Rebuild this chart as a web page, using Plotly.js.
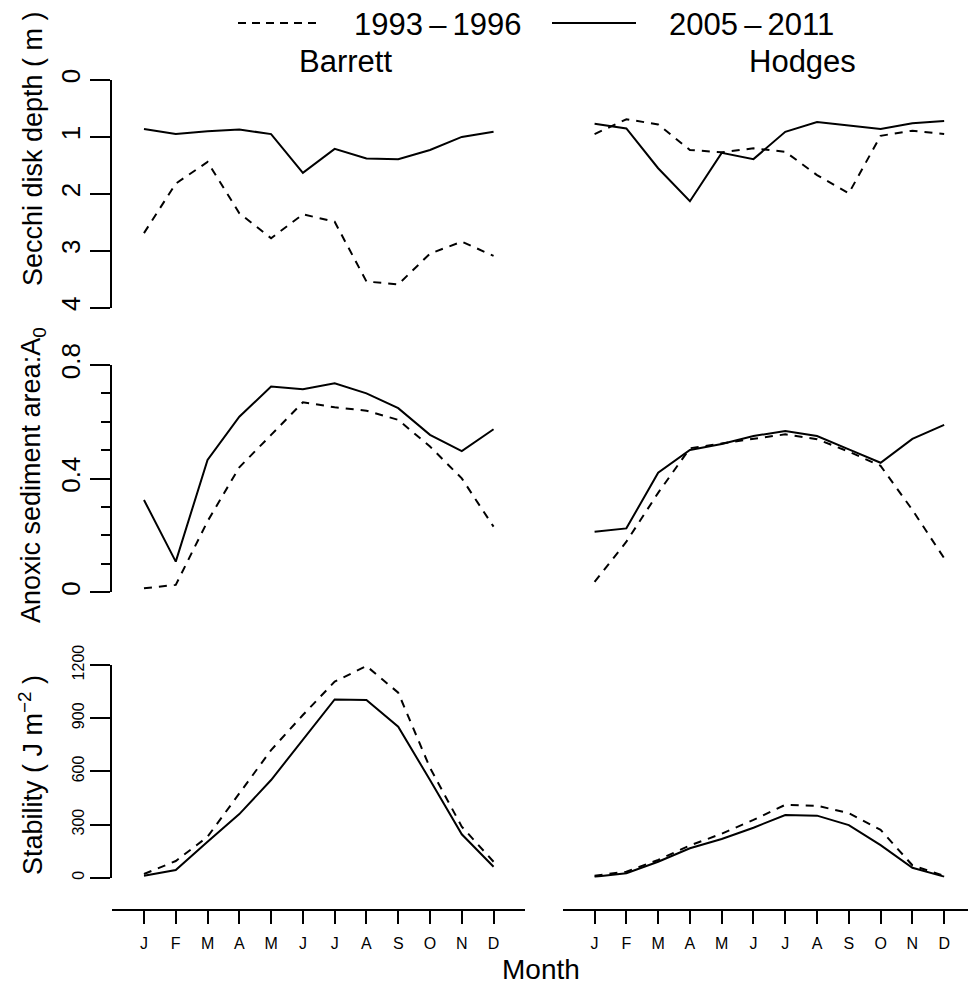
<!DOCTYPE html>
<html>
<head>
<meta charset="utf-8">
<script src="https://cdn.plot.ly/plotly-3.0.1.min.js"></script>
<style>
  html, body { margin: 0; padding: 0; background: #fff; }
  #chart { width: 968px; height: 988px; }
</style>
</head>
<body>
<div id="chart"></div>
<script>
// Month positions and labels
const monthIndex = [1, 2, 3, 4, 5, 6, 7, 8, 9, 10, 11, 12];
const monthLabels = ['J', 'F', 'M', 'A', 'M', 'J', 'J', 'A', 'S', 'O', 'N', 'D'];

// Period names
const periodEarly = '1993\u2009\u2013\u20091996';
const periodLate = '2005\u2009\u2013\u20092011';

// Secchi disk depth (m)
const secchiBarrettEarly = [2.69, 1.82, 1.44, 2.34, 2.78, 2.36, 2.49, 3.54, 3.59, 3.05, 2.84, 3.09];
const secchiBarrettLate  = [0.86, 0.95, 0.90, 0.87, 0.95, 1.63, 1.21, 1.38, 1.39, 1.23, 1.00, 0.91];
const secchiHodgesEarly  = [0.95, 0.69, 0.78, 1.23, 1.27, 1.20, 1.26, 1.67, 1.99, 0.98, 0.89, 0.95];
const secchiHodgesLate   = [0.77, 0.85, 1.55, 2.13, 1.28, 1.39, 0.91, 0.74, 0.80, 0.86, 0.76, 0.72];

// Anoxic sediment area fraction A0
const anoxicBarrettEarly = [0.014, 0.026, 0.25, 0.44, 0.554, 0.669, 0.651, 0.639, 0.607, 0.513, 0.401, 0.231];
const anoxicBarrettLate  = [0.325, 0.108, 0.466, 0.618, 0.724, 0.715, 0.736, 0.700, 0.648, 0.554, 0.497, 0.574];
const anoxicHodgesEarly  = [0.037, 0.178, 0.35, 0.507, 0.524, 0.539, 0.556, 0.539, 0.495, 0.445, 0.29, 0.12];
const anoxicHodgesLate   = [0.213, 0.225, 0.421, 0.501, 0.522, 0.55, 0.568, 0.55, 0.503, 0.456, 0.54, 0.589];

// Stability (J m^-2)
const stabilityBarrettEarly = [21, 94, 231, 476, 720, 918, 1106, 1194, 1044, 620, 288, 90];
const stabilityBarrettLate  = [11, 43, 203, 359, 551, 781, 1006, 1003, 852, 551, 245, 62];
const stabilityHodgesEarly  = [11, 34, 100, 182, 248, 326, 411, 406, 364, 270, 70, 10];
const stabilityHodgesLate   = [6, 25, 90, 166, 218, 282, 354, 350, 297, 184, 56, 6];

// Axis tick values
const secchiTicks = [0, 1, 2, 3, 4];
const anoxicTicks = [0, 0.4, 0.8];
const anoxicMinorTicks = [0, 0.1, 0.2, 0.3, 0.4, 0.5, 0.6, 0.7, 0.8];
const stabilityTicks = [0, 300, 600, 900, 1200];

const W = 968, H = 988;
const FONT = 'Liberation Sans, Arial, Helvetica, sans-serif';
const px = v => v / W;          // horizontal pixel -> paper
const py = v => 1 - v / H;      // vertical pixel -> paper

const dashStyle = '8px,7px';

function line(x, y, xa, ya, dashed) {
  return {
    type: 'scatter', mode: 'lines', x: x, y: y, xaxis: xa, yaxis: ya,
    line: { color: '#000', width: 2, dash: dashed ? dashStyle : 'solid' },
    showlegend: false, hoverinfo: 'skip'
  };
}

const data = [
  line(monthIndex, secchiBarrettEarly, 'x', 'y', true),
  line(monthIndex, secchiBarrettLate, 'x', 'y', false),
  line(monthIndex, secchiHodgesEarly, 'x2', 'y2', true),
  line(monthIndex, secchiHodgesLate, 'x2', 'y2', false),
  line(monthIndex, anoxicBarrettEarly, 'x', 'y3', true),
  line(monthIndex, anoxicBarrettLate, 'x', 'y3', false),
  line(monthIndex, anoxicHodgesEarly, 'x2', 'y4', true),
  line(monthIndex, anoxicHodgesLate, 'x2', 'y4', false),
  line(monthIndex, stabilityBarrettEarly, 'x', 'y5', true),
  line(monthIndex, stabilityBarrettLate, 'x', 'y5', false),
  line(monthIndex, stabilityHodgesEarly, 'x2', 'y6', true),
  line(monthIndex, stabilityHodgesLate, 'x2', 'y6', false)
];

// Panel geometry (pixels)
const monthStep = 31.78;
const leftX0 = 112.2;                 // month 0 on the left panel
const rightX0 = 562.8;                // month 0 on the right panel
const bottomAxisY = 909.5;

function xAxis(x0, x1pix) {
  return {
    domain: [px(x0), px(x1pix)],
    range: [0, (x1pix - x0) / monthStep],
    anchor: 'free', position: py(bottomAxisY),
    showgrid: false, zeroline: false,
    showline: true, linecolor: '#000', linewidth: 2,
    ticks: 'outside', ticklen: 13, tickwidth: 2, tickcolor: '#000',
    tickmode: 'array', tickvals: monthIndex, ticktext: monthLabels,
    tickfont: { family: FONT, size: 16, color: '#000' },
    ticklabelstandoff: 6,
    fixedrange: true
  };
}

function yAxis(top, bottom, range, anchor, visible, extra) {
  return Object.assign({
    domain: [py(bottom), py(top)],
    range: range, anchor: anchor, visible: visible,
    showgrid: false, zeroline: false,
    showline: true, linecolor: '#000', linewidth: 2,
    ticks: 'outside', ticklen: 20, tickwidth: 2, tickcolor: '#000',
    tickangle: -90,
    tickfont: { family: FONT, size: 26, color: '#000' },
    fixedrange: true
  }, extra || {});
}

const row1 = [80, 307.7], row2 = [365, 592.3], row3 = [665, 877.7];

const layout = {
  width: W, height: H,
  margin: { l: 0, r: 0, t: 0, b: 0 },
  paper_bgcolor: '#fff', plot_bgcolor: '#fff',
  showlegend: false,
  font: { family: FONT, color: '#000' },
  xaxis: xAxis(leftX0, leftX0 + 13 * monthStep),
  xaxis2: xAxis(rightX0, W),
  yaxis: yAxis(row1[0], row1[1], [4, 0], 'x', true,
    { tickmode: 'array', tickvals: secchiTicks, ticktext: secchiTicks.map(String) }),
  yaxis2: yAxis(row1[0], row1[1], [4, 0], 'x2', false),
  yaxis3: yAxis(row2[0], row2[1], [0, 0.8], 'x', true,
    { tickmode: 'array', tickvals: anoxicTicks, ticktext: ['0', '0.4', '0.8'],
      minor: { tickmode: 'array', tickvals: anoxicMinorTicks, ticks: 'outside',
               ticklen: 9, tickwidth: 2, tickcolor: '#000', showgrid: false } }),
  yaxis4: yAxis(row2[0], row2[1], [0, 0.8], 'x2', false),
  yaxis5: yAxis(row3[0], row3[1], [0, 1200], 'x', true,
    { tickmode: 'array', tickvals: stabilityTicks, ticktext: stabilityTicks.map(String),
      tickfont: { family: FONT, size: 16, color: '#000' } }),
  yaxis6: yAxis(row3[0], row3[1], [0, 1200], 'x2', false),
  shapes: [
    { type: 'line', xref: 'paper', yref: 'paper', x0: px(238), x1: px(318), y0: py(23), y1: py(23),
      line: { color: '#000', width: 2, dash: '8px,6px' } },
    { type: 'line', xref: 'paper', yref: 'paper', x0: px(552), x1: px(636), y0: py(23), y1: py(23),
      line: { color: '#000', width: 2 } }
  ],
  annotations: [
    { text: periodEarly, xref: 'paper', yref: 'paper', x: px(352), y: py(24), xanchor: 'left', yanchor: 'middle',
      showarrow: false, font: { family: FONT, size: 31, color: '#000' } },
    { text: periodLate, xref: 'paper', yref: 'paper', x: px(667), y: py(24), xanchor: 'left', yanchor: 'middle',
      showarrow: false, font: { family: FONT, size: 31, color: '#000' } },
    { text: 'Barrett', xref: 'paper', yref: 'paper', x: px(345), y: py(62), xanchor: 'center', yanchor: 'middle',
      showarrow: false, font: { family: FONT, size: 31, color: '#000' } },
    { text: 'Hodges', xref: 'paper', yref: 'paper', x: px(802), y: py(62), xanchor: 'center', yanchor: 'middle',
      showarrow: false, font: { family: FONT, size: 31, color: '#000' } },
    { text: 'Secchi disk depth ( m )', xref: 'paper', yref: 'paper', x: px(33), y: py(149),
      xanchor: 'center', yanchor: 'middle', textangle: -90,
      showarrow: false, font: { family: FONT, size: 27, color: '#000' } },
    { text: 'Anoxic sediment area:A<sub>0</sub>', xref: 'paper', yref: 'paper', x: px(33), y: py(475),
      xanchor: 'center', yanchor: 'middle', textangle: -90,
      showarrow: false, font: { family: FONT, size: 27, color: '#000' } },
    { text: 'Stability ( J m<sup>\u22122</sup> )', xref: 'paper', yref: 'paper', x: px(31), y: py(775),
      xanchor: 'center', yanchor: 'middle', textangle: -90,
      showarrow: false, font: { family: FONT, size: 27, color: '#000' } },
    { text: 'Month', xref: 'paper', yref: 'paper', x: px(541), y: py(969),
      xanchor: 'center', yanchor: 'middle',
      showarrow: false, font: { family: FONT, size: 28, color: '#000' } }
  ]
};

Plotly.newPlot('chart', data, layout, { staticPlot: true, displayModeBar: false });
</script>
</body>
</html>
